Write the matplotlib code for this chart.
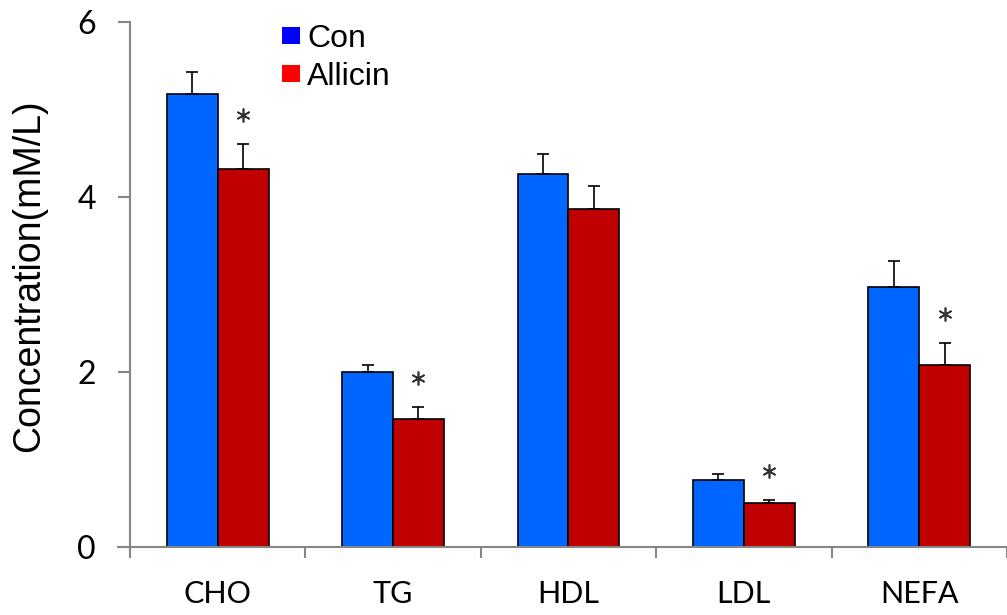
import matplotlib.pyplot as plt
from matplotlib.patches import Patch
import numpy as np


categories = ["CHO", "TG", "HDL", "LDL", "NEFA"]
con_mean = [5.18, 2.00, 4.26, 0.77, 2.97]
con_err = [0.25, 0.08, 0.23, 0.06, 0.30]
allicin_mean = [4.32, 1.46, 3.86, 0.50, 2.08]
allicin_err = [0.29, 0.14, 0.27, 0.04, 0.25]
allicin_signif = [True, True, False, True, True]
y_ticks = [0, 2, 4, 6]

BAR_BLUE = "#0066FF"
BAR_RED = "#C00000"
AXIS_GRAY = "#868686"

fig = plt.figure(figsize=(10.07, 6.15), dpi=100)
ax = fig.add_axes([118 / 1007, 1 - 547 / 615, 1 - 118 / 1007, (547 - 22) / 615])

x = np.arange(len(categories))
width = 0.29
err_kw = dict(ecolor="black", elinewidth=1.2, capsize=4, capthick=1.2)
ax.bar(x - width / 2, con_mean, width, color=BAR_BLUE, edgecolor="black", linewidth=1.2,
       yerr=[np.zeros(len(x)), con_err], error_kw=err_kw, zorder=2)
ax.bar(x + width / 2, allicin_mean, width, color=BAR_RED, edgecolor="black", linewidth=1.2,
       yerr=[np.zeros(len(x)), allicin_err], error_kw=err_kw, zorder=2)

# significance stars above Allicin error bars
sig = np.array(allicin_signif)
star_y = np.array(allicin_mean) + np.array(allicin_err) + 0.33
ax.plot((x + width / 2)[sig], star_y[sig], linestyle="none", marker=(6, 2, 0),
        markersize=10, markeredgewidth=1.2, color="#333333")

px = 176.5
ax.set_xlim(-0.5 - 12 / px, -0.5 + (1007 - 130) / px)
ax.set_ylim(0, 6)
ax.spines["left"].set_position(("data", -0.5))
ax.spines["left"].set_bounds(0, 6)
for side in ["top", "right"]:
    ax.spines[side].set_visible(False)
for side in ["left", "bottom"]:
    ax.spines[side].set_color(AXIS_GRAY)
    ax.spines[side].set_linewidth(1.5)

ax.set_yticks(y_ticks)
ax.set_yticklabels([str(v) for v in y_ticks], fontsize=23, family="Lato")
ax.tick_params(axis="y", direction="out", length=8.6, width=1.5, color=AXIS_GRAY, pad=16)

ax.set_xticks(np.arange(len(categories) + 1) - 0.5)
ax.set_xticklabels([])
ax.tick_params(axis="x", which="major", direction="out", length=8, width=1.5, color=AXIS_GRAY)
ax.set_xticks(x, minor=True)
ax.set_xticklabels(categories, minor=True, fontsize=22, family="Lato")
ax.tick_params(axis="x", which="minor", length=0, pad=24)

fig.text(29 / 1007, 1 - 276 / 615, "Concentration(mM/L)", rotation=90, fontsize=27,
         family="Liberation Sans", ha="center", va="center")

handles = [Patch(facecolor="#0000FF", edgecolor="none"), Patch(facecolor="#FF0000", edgecolor="none")]
leg = ax.legend(handles, ["Con", "Allicin"], loc="upper left",
                bbox_to_anchor=(282 / 1007, 1 - 24 / 615), bbox_transform=fig.transFigure,
                frameon=False, prop={"family": "Liberation Sans", "size": 23},
                handlelength=0.56, handleheight=0.46, handletextpad=0.22, labelspacing=0.25,
                borderpad=0, borderaxespad=0)

fig.savefig("out.png", dpi=100)
